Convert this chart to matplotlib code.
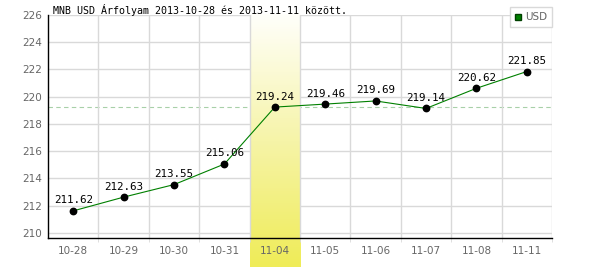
import numpy as np
import matplotlib
matplotlib.use("Agg")
from matplotlib import pyplot as plt
from matplotlib.lines import Line2D
from matplotlib.colors import LinearSegmentedColormap

# daily USD rates (MNB)
dates = ["10-28", "10-29", "10-30", "10-31", "11-04", "11-05", "11-06", "11-07", "11-08", "11-11"]
rates = [211.62, 212.63, 213.55, 215.06, 219.24, 219.46, 219.69, 219.14, 220.62, 221.85]
highlight = 4  # 11-04
ref_level = 219.24
y_ticks = [210, 212, 214, 216, 218, 220, 222, 224, 226]

fig = plt.figure(figsize=(6, 2.7), dpi=100)
ax = fig.add_axes([48 / 600, 1 - 238 / 270, 504 / 600, 223 / 270])

x = np.arange(len(dates))
grid_col = "#d9d9d9"

# horizontal grid under the band, vertical grid over it
for yt in y_ticks:
    ax.axhline(yt, color=grid_col, linewidth=1, zorder=0.5)
for xb in np.arange(0.5, len(dates), 1):
    ax.axvline(xb, color=grid_col, linewidth=1, zorder=1.5)

# reference level (hidden by the band)
ax.axhline(ref_level, color="#a8d0a8", linestyle=(0, (4, 3)), linewidth=0.8, zorder=0.8)

# yellow gradient band behind the highlighted day, running below the axis
grad = np.linspace(0, 1, 100).reshape(-1, 1)
cmap = LinearSegmentedColormap.from_list("band", ["#fffffa", "#f6f4a8", "#efec58"])
im = ax.imshow(grad, cmap=cmap, aspect="auto", origin="upper",
               extent=(highlight - 0.5, highlight + 0.5, 207.5, 226), zorder=1)
im.set_clip_on(False)
ax.set_xlim(-0.5, len(dates) - 0.5)
ax.set_ylim(209.63, 226)

ax.set_yticks(y_ticks)
ax.set_xticks(x)
ax.set_xticklabels(dates)
ax.set_xticks(np.arange(0.5, len(dates), 1), minor=True)
ax.tick_params(axis="both", which="major", length=0, labelsize=7.5, labelcolor="#666666", pad=6)
ax.tick_params(axis="x", which="minor", length=3, color=grid_col)
ax.tick_params(axis="y", which="major", pad=4)

for s in ["top", "right"]:
    ax.spines[s].set_visible(False)
for s in ["left", "bottom"]:
    ax.spines[s].set_color("black")
    ax.spines[s].set_linewidth(1)
    ax.spines[s].set_zorder(5)

ax.plot(x, rates, color="#008000", linewidth=0.8, zorder=3)
ax.plot(x, rates, "o", color="black", markersize=4.6, zorder=4)

for xi, r in zip(x, rates):
    ax.annotate(f"{r:.2f}", (xi, r), xytext=(0, 4), textcoords="offset points",
                ha="center", va="bottom", fontsize=7.8, family="DejaVu Sans Mono",
                color="black", zorder=6)

fig.text(53 / 600, 1 - 14 / 270, "MNB USD Árfolyam 2013-10-28 és 2013-11-11 között.",
         fontsize=7.2, family="DejaVu Sans Mono", ha="left", va="baseline")

handle = Line2D([], [], marker="s", linestyle="none", markerfacecolor="#008000",
                markeredgecolor="#004000", markersize=5)
leg = ax.legend([handle], ["USD"], loc="upper right", bbox_to_anchor=(552 / 600, 1 - 7 / 270),
                bbox_transform=fig.transFigure, fontsize=7.5, frameon=True, fancybox=False,
                handlelength=0.6, handletextpad=0.3, borderpad=0.5, borderaxespad=0)
leg.get_frame().set_edgecolor(grid_col)
leg.get_frame().set_linewidth(1)
leg.get_frame().set_alpha(1)
for t in leg.get_texts():
    t.set_color("#666666")

fig.savefig("out.png", dpi=100)
